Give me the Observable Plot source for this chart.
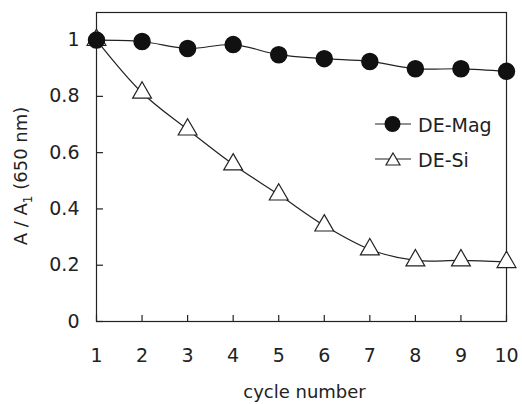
<!DOCTYPE html>
<html><head><meta charset="utf-8">
<script src="https://cdn.jsdelivr.net/npm/d3@7"></script>
<script src="https://cdn.jsdelivr.net/npm/@observablehq/plot@0.6"></script>
<style>
body{margin:0;background:#fff;}
#wrap{position:relative;width:522px;height:404px;font-family:"DejaVu Sans",sans-serif;}
#over{position:absolute;left:0;top:0;pointer-events:none;}
</style></head>
<body><div id="wrap"></div>
<script>
const cycles = [1,2,3,4,5,6,7,8,9,10];
const deMag = [1.0,0.995,0.97,0.984,0.948,0.934,0.924,0.898,0.898,0.889];
const deSi  = [1.0,0.813,0.682,0.558,0.451,0.341,0.256,0.217,0.217,0.211];
const yTicks = [0,0.2,0.4,0.6,0.8,1];
const yTickLabels = ["0","0.2","0.4","0.6","0.8","1"];
const xTicks = [1,2,3,4,5,6,7,8,9,10];
const seriesNames = ["DE-Mag","DE-Si"];

const mag = cycles.map((c,i)=>({x:c,y:deMag[i]}));
const si = cycles.map((c,i)=>({x:c,y:deSi[i]}));

const W=522,H=404, ml=96, mr=16, mt=12, mb=83;
const chart = Plot.plot({
  width:W, height:H,
  marginLeft:ml, marginRight:mr, marginTop:mt, marginBottom:mb,
  style:{fontFamily:"DejaVu Sans, sans-serif", fontSize:"19px", color:"#222", background:"#fff", overflow:"visible"},
  x:{domain:[1,10]},
  y:{domain:[0,1.098]},
  marks:[
    Plot.frame({stroke:"#222", strokeWidth:1.2}),
    Plot.axisY(yTicks,{tickSize:-7, tickPadding:24, tickFormat:(d,i)=>yTickLabels[i], label:null, stroke:"#222", strokeWidth:1.2, fill:"#222", fontSize:19}),
    Plot.axisX(xTicks,{tickSize:-6, tickPadding:33, label:null, stroke:"#222", strokeWidth:1.2, fill:"#222", fontSize:19}),
    Plot.line(mag,{x:"x",y:"y",curve:"catmull-rom",stroke:"#222",strokeWidth:1.2}),
    Plot.line(si,{x:"x",y:"y",curve:"catmull-rom",stroke:"#222",strokeWidth:1.2}),
    Plot.dot(si,{x:"x",y:"y",r:7,symbol:"triangle",fill:"#fff",stroke:"#222",strokeWidth:1.2}),
    Plot.dot(mag,{x:"x",y:"y",r:8,fill:"#111",stroke:"#111"})
  ]
});
const wrap=document.getElementById("wrap");
wrap.appendChild(chart);

// overlay: legend + axis titles
const ns="http://www.w3.org/2000/svg";
const over=document.createElementNS(ns,"svg");
over.setAttribute("id","over");over.setAttribute("width",W);over.setAttribute("height",H);
over.innerHTML = `
<g font-family="DejaVu Sans, sans-serif" font-size="19" fill="#222">
  <line x1="375" y1="124" x2="411" y2="124" stroke="#222" stroke-width="1.2"/>
  <circle cx="392.5" cy="124" r="8" fill="#111"/>
  <text x="418" y="131.5">${seriesNames[0]}</text>
  <line x1="375" y1="159" x2="411" y2="159" stroke="#222" stroke-width="1.2"/>
  <path d="M393,153 L400,165 L386,165 Z" fill="#fff" stroke="#222" stroke-width="1.2"/>
  <text x="418" y="167">${seriesNames[1]}</text>
  <text x="304.5" y="398" font-size="18" text-anchor="middle">cycle number</text>
  <text transform="translate(27,176) rotate(-90)" text-anchor="middle" font-size="18">A / A<tspan font-size="12" dy="5">1</tspan><tspan dy="-5"> (650 nm)</tspan></text>
</g>`;
wrap.appendChild(over);
</script>
</body></html>
